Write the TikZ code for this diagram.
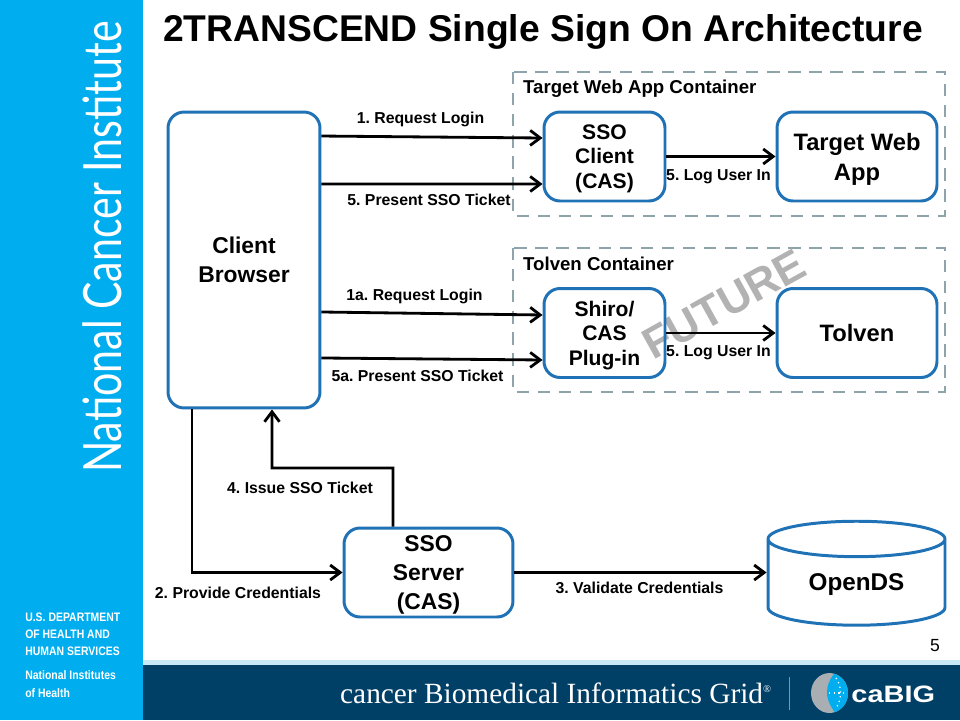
\documentclass[tikz,border=0pt]{standalone}
\usepackage{fontspec}
\setmainfont{Liberation Sans}
\newfontfamily\serifpart{Liberation Serif}
\newfontfamily\thinpart{Lato}
\usetikzlibrary{arrows.meta,shapes.geometric}
\definecolor{sidebarblue}{HTML}{00AEEF}
\definecolor{bandnavy}{HTML}{003F66}
\definecolor{stripblue}{HTML}{C8EAF8}
\definecolor{boxblue}{HTML}{1F72B5}
\definecolor{dashgray}{HTML}{8FA3AB}
\definecolor{globegray}{HTML}{A9AEB2}
\definecolor{barblue}{HTML}{6C9CBA}
\frenchspacing
\begin{document}
\begin{tikzpicture}[x=.02cm,y=-.02cm]

      \tikzset{
        procbox/.style={draw=boxblue, line width=1.7pt, rounded corners=.32cm, align=center, text depth=0pt, font=\fontsize{13}{16.5}\bfseries\selectfont},
        smallbox/.style={procbox, minimum width=2.42cm, minimum height=1.78cm, font=\fontsize{12}{14}\bfseries\selectfont},
        widebox/.style={procbox, minimum width=3.2cm, minimum height=1.78cm, font=\fontsize{13.5}{17}\bfseries\selectfont},
        container/.style={draw=dashgray, line width=1.3pt, dash pattern=on 7pt off 5pt},
        flow/.style={draw=black, line width=1.6pt, -{Straight Barb[length=2mm,width=3mm]}},
        steplabel/.style={font=\fontsize{9}{10}\bfseries\selectfont},
        boxlabel/.style={font=\fontsize{10.6}{12}\bfseries\selectfont, anchor=west},
        sidetext/.style={text=white, anchor=west, transform shape, xscale=.85, font=\fontsize{7}{9}\bfseries\selectfont}
      }
      \useasboundingbox (0,0) rectangle (960,720);
%% Page frame
      	\fill[sidebarblue] (0,0) rectangle (143,720);
      	\fill[stripblue] (143,660) rectangle (960,665);
      	\fill[bandnavy] (143,664.5) rectangle (960,720);
      	\node[rotate=90, xscale=.78, transform shape, text=white, font=\fontsize{30}{30}\thinpart\selectfont] (nci) at (102,247) {National Cancer Institute};
      	\node[sidetext] (dept1) at (20,617) {U.S. DEPARTMENT};
      	\node[sidetext] (dept2) at (20,634) {OF HEALTH AND};
      	\node[sidetext] (dept3) at (20,651) {HUMAN SERVICES};
      	\node[sidetext] (nih1) at (20,675) {National Institutes};
      	\node[sidetext] (nih2) at (20,693) {of Health};
      	\node[font=\fontsize{21.2}{21.2}\bfseries\selectfont] (title) at (543,31.5) {2TRANSCEND Single Sign On Architecture};
      	\node[font=\fontsize{10}{10}\selectfont] (pagenum) at (935,646) {5};
      	\node[text=white, anchor=west, font=\fontsize{16.7}{17}\serifpart\selectfont] (cbig) at (334,693) {cancer Biomedical Informatics Grid\textsuperscript{\fontsize{6}{6}\selectfont\textregistered}};
      	\draw[barblue, line width=1.1pt] (789.5,677) -- (789.5,710);
%% Globe
      	\fill[globegray] (829.5,693) ellipse (18.5 and 20);
      	\begin{scope}
      	  \clip (829.5,693) ellipse (18.5 and 20);
      	  \fill[sidebarblue] (837,670) .. controls (823,686) and (824,700) .. (838,716) -- (850,716) -- (850,670) -- cycle;
      	  \draw[white, line width=.7pt, dotted] (829,693) -- (848,693);
      	  \draw[white, line width=.7pt, dotted] (836,678) .. controls (842,686) and (842,700) .. (836,708);
      	\end{scope}
      	\node[text=white, anchor=west, inner sep=0pt, transform shape, xscale=1.22, font=\fontsize{13.5}{15}\bfseries\selectfont] (cabig) at (851,694) {caBIG};
%% Containers
      	\draw[container] (513,72) rectangle (945,216);
      	\draw[container] (513,248) rectangle (945,392);
      	\node[boxlabel] (webcontainer) at (517,88.5) {Target Web App Container};
      	\node[boxlabel] (tolvencontainer) at (517,263.5) {Tolven Container};
      	\node[rotate=29, text=black!30, font=\fontsize{25}{25}\bfseries\selectfont] (future) at (724,304) {FUTURE};
%% Vertices
      	\node[procbox, minimum width=3.04cm, minimum height=5.92cm] (client) at (244,260) {Client\\Browser};
      	\node[smallbox] (ssoclient) at (604.5,156.5) {SSO\\Client\\(CAS)};
      	\node[widebox] (webapp) at (857,156.5) {Target Web\\App};
      	\node[smallbox] (shiro) at (604.5,333) {Shiro/\\CAS\\Plug-in};
      	\node[widebox] (tolven) at (857,333) {Tolven};
      	\node[procbox, minimum width=3.38cm, minimum height=1.78cm] (ssoserver) at (428.5,572.5) {SSO\\Server\\(CAS)};
      	\node[cylinder, shape border rotate=90, aspect=.33, draw=boxblue, line width=1.7pt, minimum width=3.54cm, minimum height=2.08cm, font=\fontsize{13.8}{15}\bfseries\selectfont] (opends) at (856.5,586) {\raisebox{.14cm}{OpenDS}};
      	\coordinate (ticketturn) at (272,468);
%Edges
		\draw[flow] ([yshift=2.48cm]client.east) -- ([yshift=.37cm]ssoclient.west);
		\draw[flow] ([yshift=1.52cm]client.east) -- ([yshift=-.55cm]ssoclient.west);
		\draw[flow] ([yshift=-1.04cm]client.east) -- ([yshift=.36cm]shiro.west);
		\draw[flow] ([yshift=-1.96cm]client.east) -- ([yshift=-.54cm]shiro.west);
		\draw[flow] (ssoclient) -- (webapp);
		\draw[flow] (shiro) -- (tolven);
		\draw[flow] ([xshift=-1.04cm]client.south) |- (ssoserver.west);
		\draw[flow] ([xshift=-.71cm]ssoserver.north) |- (ticketturn) -- ([xshift=.56cm]client.south);
		\draw[flow] (ssoserver.east) -- (ssoserver.east -| opends.west);
%Labels
		\node[steplabel] (l1) at (420.5,119.5) {1. Request Login};
		\node[steplabel] (l5) at (429,199.5) {5. Present SSO Ticket};
		\node[steplabel] (l1a) at (414.5,296.5) {1a. Request Login};
		\node[steplabel] (l5a) at (417.5,375.5) {5a. Present SSO Ticket};
		\node[steplabel] (llog) at (718.5,177) {5. Log User In};
		\node[steplabel] (llogb) at (718.5,353) {5. Log User In};
		\node[steplabel] (l4) at (300,488) {4. Issue SSO Ticket};
		\node[steplabel] (l2) at (238,592.5) {2. Provide Credentials};
		\node[steplabel] (l3) at (639.5,587.5) {3. Validate Credentials};

	\end{tikzpicture}
\end{document}
